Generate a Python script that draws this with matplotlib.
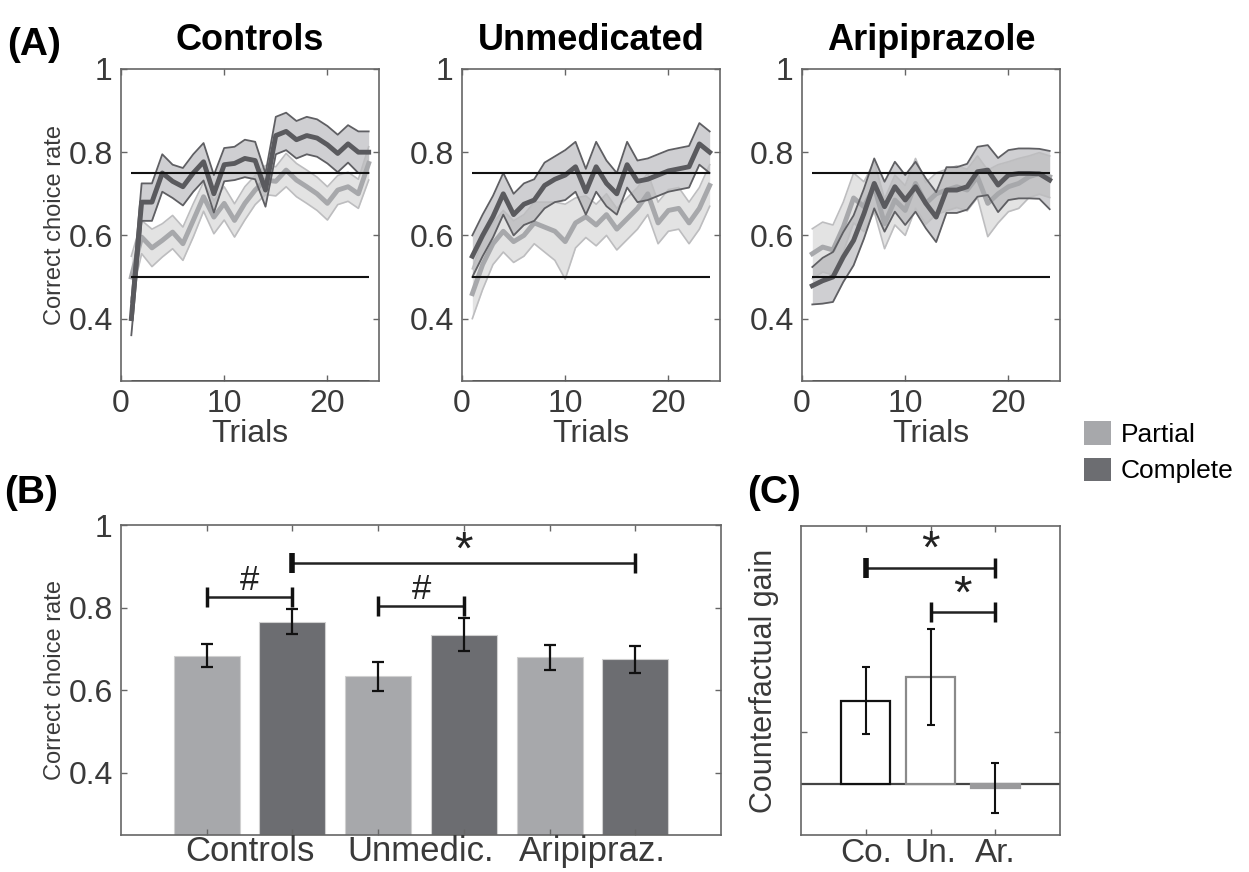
import numpy as np
import matplotlib
matplotlib.use('Agg')
import matplotlib.pyplot as plt
from matplotlib.patches import Patch

plt.rcParams['font.family'] = ['Liberation Sans', 'DejaVu Sans']

# ---- data ----
trials = np.arange(1, 25)
groups = ['Controls', 'Unmedicated', 'Aripiprazole']

ctrl_complete = [0.40, 0.68, 0.68, 0.75, 0.73, 0.717, 0.75, 0.777, 0.70, 0.77, 0.773, 0.785,
                 0.78, 0.709, 0.84, 0.85, 0.83, 0.84, 0.834, 0.818, 0.797, 0.82, 0.80, 0.80]
ctrl_complete_sem = [0.04, 0.045, 0.045, 0.045, 0.04, 0.045, 0.045, 0.045, 0.045, 0.04, 0.04, 0.045,
                     0.045, 0.04, 0.045, 0.045, 0.045, 0.045, 0.045, 0.045, 0.045, 0.045, 0.05, 0.05]
ctrl_partial = [0.50, 0.596, 0.57, 0.588, 0.608, 0.58, 0.636, 0.693, 0.644, 0.677, 0.636, 0.677,
                0.709, 0.733, 0.73, 0.757, 0.733, 0.717, 0.70, 0.677, 0.709, 0.717, 0.70, 0.773]
ctrl_partial_sem = [0.05, 0.04, 0.045, 0.04, 0.04, 0.04, 0.04, 0.035, 0.04, 0.04, 0.04, 0.04,
                    0.035, 0.035, 0.035, 0.04, 0.04, 0.04, 0.04, 0.04, 0.035, 0.035, 0.035, 0.04]

unmed_complete = [0.55, 0.60, 0.645, 0.70, 0.65, 0.675, 0.685, 0.72, 0.735, 0.745, 0.765, 0.705,
                  0.765, 0.725, 0.70, 0.77, 0.73, 0.735, 0.745, 0.755, 0.76, 0.765, 0.82, 0.80]
unmed_complete_sem = [0.05, 0.05, 0.05, 0.05, 0.05, 0.05, 0.05, 0.055, 0.055, 0.06, 0.06, 0.055,
                      0.06, 0.055, 0.05, 0.055, 0.05, 0.05, 0.05, 0.05, 0.05, 0.05, 0.05, 0.05]
unmed_partial = [0.46, 0.53, 0.58, 0.61, 0.585, 0.60, 0.63, 0.62, 0.61, 0.585, 0.63, 0.645,
                 0.625, 0.65, 0.615, 0.64, 0.665, 0.70, 0.63, 0.66, 0.665, 0.63, 0.665, 0.72]
unmed_partial_sem = [0.06, 0.06, 0.05, 0.05, 0.05, 0.05, 0.05, 0.06, 0.07, 0.09, 0.06, 0.05,
                     0.05, 0.05, 0.05, 0.05, 0.05, 0.05, 0.05, 0.05, 0.05, 0.05, 0.05, 0.05]

arip_complete = [0.479, 0.491, 0.50, 0.548, 0.588, 0.652, 0.725, 0.669, 0.717, 0.685, 0.717, 0.677,
                 0.644, 0.709, 0.709, 0.717, 0.753, 0.757, 0.721, 0.745, 0.749, 0.749, 0.748, 0.733]
arip_complete_sem = [0.045, 0.055, 0.06, 0.06, 0.06, 0.06, 0.06, 0.06, 0.06, 0.06, 0.06, 0.06,
                     0.06, 0.055, 0.055, 0.055, 0.06, 0.06, 0.065, 0.06, 0.06, 0.06, 0.06, 0.07]
arip_partial = [0.556, 0.572, 0.565, 0.62, 0.69, 0.669, 0.717, 0.628, 0.685, 0.66, 0.725, 0.677,
                0.70, 0.709, 0.717, 0.709, 0.741, 0.677, 0.70, 0.717, 0.725, 0.741, 0.749, 0.741]
arip_partial_sem = [0.06, 0.06, 0.06, 0.06, 0.06, 0.06, 0.06, 0.06, 0.06, 0.06, 0.06, 0.05,
                    0.05, 0.05, 0.05, 0.05, 0.05, 0.08, 0.07, 0.06, 0.06, 0.05, 0.05, 0.05]

complete_curves = [ctrl_complete, unmed_complete, arip_complete]
complete_sems = [ctrl_complete_sem, unmed_complete_sem, arip_complete_sem]
partial_curves = [ctrl_partial, unmed_partial, arip_partial]
partial_sems = [ctrl_partial_sem, unmed_partial_sem, arip_partial_sem]

# panel B: Partial / Complete for each group
bar_labels = ['Controls', 'Unmedic.', 'Aripipraz.']
bar_means = [0.684, 0.766, 0.634, 0.735, 0.680, 0.675]
bar_errs = [0.027, 0.030, 0.035, 0.040, 0.030, 0.033]

# panel C: counterfactual gain (arbitrary units, no scale shown)
gain_labels = ['Co.', 'Un.', 'Ar.']
gain_means = [0.080, 0.103, -0.004]
gain_errs = [0.032, 0.046, 0.024]

# ---- style ----
c_partial = '#a7a8ab'
c_complete = '#6c6d71'
tick_col = '#3a3a3a'
spine_col = '#666666'


def style_axes(ax):
    for s in ax.spines.values():
        s.set_color(spine_col)
        s.set_linewidth(1.2)
    ax.tick_params(direction='in', top=True, right=True, length=4, width=1,
                   color=spine_col, labelcolor=tick_col, labelsize=23, pad=6)


fig = plt.figure(figsize=(12.49, 8.72), dpi=100)

# ---- panel A ----
lefts = [121, 462, 802]
for i, g in enumerate(groups):
    ax = fig.add_axes([lefts[i] / 1249, 1 - 381 / 872, 258 / 1249, 312 / 872])
    m = np.array(partial_curves[i])
    s = np.array(partial_sems[i])
    ax.fill_between(trials, m - s, m + s, color='#dcdcdd', alpha=0.8, lw=0)
    ax.plot(trials, m + s, color='#bdbdbf', lw=1.2)
    ax.plot(trials, m - s, color='#bdbdbf', lw=1.2)
    ax.plot(trials, m, color=c_partial, lw=3.5)
    m = np.array(complete_curves[i])
    s = np.array(complete_sems[i])
    ax.fill_between(trials, m - s, m + s, color='#a9a9ad', alpha=0.55, lw=0)
    ax.plot(trials, m + s, color='#5f5f63', lw=1.3)
    ax.plot(trials, m - s, color='#5f5f63', lw=1.3)
    ax.plot(trials, m, color='#5a5a5e', lw=3.5)
    ax.hlines([0.75, 0.5], 1, 24, color='#111111', lw=1.5)
    ax.hlines(0.25, 1, 24, color='#111111', lw=2)
    ax.set_xlim(0, 25)
    ax.set_ylim(0.25, 1)
    ax.set_xticks([0, 10, 20])
    ax.set_yticks([0.4, 0.6, 0.8, 1])
    ax.set_yticklabels(['0.4', '0.6', '0.8', '1'])
    style_axes(ax)
    ax.set_xlabel('Trials', fontsize=23, color=tick_col, labelpad=0)
    ax.set_title(g, fontsize=26, fontweight='bold', pad=14)
    if i == 0:
        ax.set_ylabel('Correct choice rate', fontsize=17, color=tick_col, labelpad=2)

# ---- panel B ----
axb = fig.add_axes([121 / 1249, 1 - 835 / 872, 600 / 1249, 310 / 872])
pos = np.arange(1, 7)
cols = [c_partial, c_complete] * 3
axb.bar(pos, np.array(bar_means) - 0.25, bottom=0.25, width=0.77, color=cols,
        edgecolor='#d0d0d0', lw=0.8)
axb.errorbar(pos, bar_means, yerr=bar_errs, fmt='none', ecolor='#111111',
             elinewidth=1.6, capsize=4, capthick=1.6)


def bracket(ax, x1, x2, y, sym, ty, thick_left=False):
    ax.plot([x1, x2], [y, y], color='#222222', lw=1.8)
    ax.plot([x1], [y], marker='|', color='#111111', ms=14, mew=4 if thick_left else 2.5)
    ax.plot([x2], [y], marker='|', color='#111111', ms=14, mew=2.5)
    fs = 34 if sym == '*' else 25
    ax.text((x1 + x2) / 2, ty, sym, ha='center', va='center', fontsize=fs, color='#222222')


bracket(axb, 1, 2, 0.8265, '#', 0.865)
bracket(axb, 3, 4, 0.805, '#', 0.845)
bracket(axb, 2, 6, 0.908, '*', 0.935, thick_left=True)
axb.set_xlim(0, 7)
axb.set_ylim(0.25, 1)
axb.set_xticks(pos)
axb.set_xticklabels([])
axb.set_yticks([0.4, 0.6, 0.8, 1])
axb.set_yticklabels(['0.4', '0.6', '0.8', '1'])
style_axes(axb)
for k, lab in enumerate(bar_labels):
    axb.text(1.5 + 2 * k, 0.249, lab, ha='center', va='top', fontsize=25,
             color=tick_col, transform=axb.transData)
axb.set_ylabel('Correct choice rate', fontsize=17, color=tick_col, labelpad=2)

# ---- panel C ----
axc = fig.add_axes([801 / 1249, 1 - 835 / 872, 259 / 1249, 309 / 872])
xc = np.arange(1, 4)
axc.bar(xc, gain_means, width=0.75, color=['white', 'white', '#9a9a9c'],
        edgecolor=['#111111', '#8a8a8a', '#9a9a9c'], lw=1.6, zorder=2)
axc.axhline(0, color='#444444', lw=1.6, zorder=1)
axc.errorbar(xc, gain_means, yerr=gain_errs, fmt='none', ecolor='#111111',
             elinewidth=1.5, capsize=3, capthick=1.5, zorder=3)
bracket(axc, 1, 3, 0.2077, '*', 0.224, thick_left=True)
bracket(axc, 2, 3, 0.165, '*', 0.181)
axc.set_xlim(0, 4)
axc.set_ylim(-0.049, 0.248)
axc.set_xticks(xc)
axc.set_xticklabels(gain_labels)
axc.set_yticks([0.05])
axc.set_yticklabels([])
style_axes(axc)
axc.tick_params(axis='x', labelsize=24, pad=2)
axc.set_ylabel('Counterfactual gain', fontsize=22, color=tick_col, labelpad=10)

# ---- panel letters and legend ----
fig.text(0.006, 0.948, '(A)', fontsize=28, fontweight='bold', va='center')
fig.text(0.003, 0.435, '(B)', fontsize=28, fontweight='bold', va='center')
fig.text(0.598, 0.435, '(C)', fontsize=28, fontweight='bold', va='center')

handles = [Patch(facecolor=c_partial, edgecolor='none', label='Partial'),
           Patch(facecolor=c_complete, edgecolor='none', label='Complete')]
fig.legend(handles=handles, loc='upper left', bbox_to_anchor=(0.868, 0.517),
           frameon=False, fontsize=19, handlelength=1.0, handleheight=1.0,
           handletextpad=0.4, labelspacing=0.4, borderaxespad=0, borderpad=0)

fig.savefig('out.png', dpi=100)
